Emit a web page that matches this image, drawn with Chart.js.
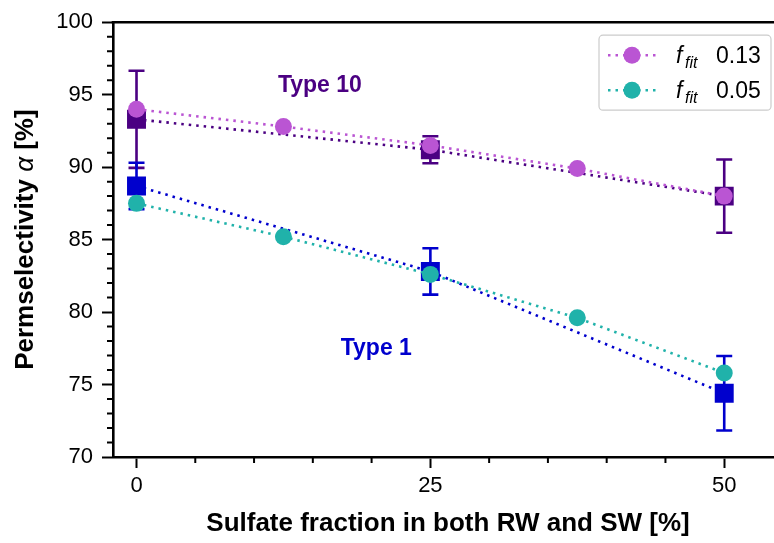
<!DOCTYPE html>
<html><head><meta charset="utf-8">
<script src="https://cdn.jsdelivr.net/npm/chart.js@4.4.0/dist/chart.umd.min.js"></script>
<style>
html,body{margin:0;padding:0;overflow:hidden;background:#fff;width:774px;height:543px}
#wrap{width:800px;height:543px;position:relative}
</style></head>
<body><div id="wrap"><canvas id="c" width="800" height="543"></canvas></div>
<script>
// ---- data ----
const fitX = [0, 12.5, 25, 37.5, 50];
const fit013 = [94.0, 92.8, 91.5, 89.9, 88.0];
const fit005 = [87.5, 85.2, 82.6, 79.6, 75.8];
const expX = [0, 25, 50];
const type10 = [93.3, 91.2, 88.0];
const type10Err = [3.35, 0.93, 2.53];
const type1 = [88.7, 82.8, 74.4];
const type1Err = [1.6, 1.6, 2.57];
const xTicks = [0, 25, 50];
const xMinor = [5, 10, 15, 20, 30, 35, 40, 45];
const yTicks = [70, 75, 80, 85, 90, 95, 100];
const yMinor = [71,72,73,74,76,77,78,79,81,82,83,84,86,87,88,89,91,92,93,94,96,97,98,99];
const legendLabels = ['0.13', '0.05'];
const typeLabels = [{text:'Type 10', x:15.6, y:95.6}, {text:'Type 1', x:20.4, y:77.5}];

const F = "'Liberation Sans', Arial, sans-serif";
const C10 = '#4b0082', C1 = '#0000cd', CV = '#ba55d3', CT = '#20b2aa';
const pts = (xs, ys) => xs.map((x, i) => ({x: x, y: ys[i]}));

const errPlugin = {
  id: 'err',
  beforeDatasetsDraw(chart) {
    const {ctx, scales: {x, y}} = chart;
    const draw = (ys, errs, color) => {
      ctx.strokeStyle = color; ctx.lineWidth = 2.6; ctx.lineCap = 'butt';
      ys.forEach((v, i) => {
        const px = x.getPixelForValue(expX[i]);
        const t = y.getPixelForValue(v + errs[i]);
        const b = y.getPixelForValue(v - errs[i]);
        ctx.beginPath();
        ctx.moveTo(px, t); ctx.lineTo(px, b);
        ctx.moveTo(px - 8, t); ctx.lineTo(px + 8, t);
        ctx.moveTo(px - 8, b); ctx.lineTo(px + 8, b);
        ctx.stroke();
      });
    };
    ctx.save();
    draw(type10, type10Err, C10);
    draw(type1, type1Err, C1);
    ctx.restore();
  }
};

const decoPlugin = {
  id: 'deco',
  afterDraw(chart) {
    const {ctx, chartArea: a, scales: {x, y}} = chart;
    ctx.save();
    // frame top/right
    ctx.strokeStyle = '#000'; ctx.lineWidth = 2.6;
    ctx.beginPath();
    ctx.moveTo(a.left - 1.3, a.top); ctx.lineTo(a.right, a.top); ctx.lineTo(a.right, a.bottom);
    ctx.stroke();
    // minor ticks
    ctx.lineWidth = 2;
    ctx.beginPath();
    xMinor.forEach(v => { const px = x.getPixelForValue(v); ctx.moveTo(px, a.bottom); ctx.lineTo(px, a.bottom + 6); });
    yMinor.forEach(v => { const py = y.getPixelForValue(v); ctx.moveTo(a.left, py); ctx.lineTo(a.left - 6, py); });
    ctx.stroke();
    // type labels
    ctx.font = 'bold 23px ' + F;
    ctx.textAlign = 'center'; ctx.textBaseline = 'middle';
    [C10, C1].forEach((c, i) => {
      const t = typeLabels[i];
      ctx.fillStyle = c;
      ctx.fillText(t.text, x.getPixelForValue(t.x), y.getPixelForValue(t.y));
    });
    // y title
    ctx.save();
    ctx.translate(33, (a.top + a.bottom) / 2);
    ctx.rotate(-Math.PI / 2);
    ctx.fillStyle = '#000';
    ctx.textBaseline = 'alphabetic'; ctx.textAlign = 'left';
    const parts = [['bold 26px ' + F, 'Permselectivity '], ['italic 26px ' + F, 'α'], ['bold 26px ' + F, ' [%]']];
    let w = 0;
    parts.forEach(p => { ctx.font = p[0]; w += ctx.measureText(p[1]).width; });
    let cx = -w / 2;
    parts.forEach(p => { ctx.font = p[0]; ctx.fillText(p[1], cx, 0); cx += ctx.measureText(p[1]).width; });
    ctx.restore();
    // legend
    const right = a.right - 12, left = right - 172, top = a.top + 13, h = 75;
    ctx.fillStyle = 'rgba(255,255,255,0.85)';
    ctx.strokeStyle = '#cccccc'; ctx.lineWidth = 1.2;
    ctx.beginPath(); ctx.roundRect(left, top, 172, h, 4); ctx.fill(); ctx.stroke();
    [CV, CT].forEach((c, i) => {
      const ry = top + 20 + i * 35;
      ctx.strokeStyle = c; ctx.lineWidth = 2.6; ctx.setLineDash([2.5, 5]);
      ctx.beginPath(); ctx.moveTo(left + 9, ry); ctx.lineTo(left + 59, ry); ctx.stroke();
      ctx.setLineDash([]);
      ctx.fillStyle = c;
      ctx.beginPath(); ctx.arc(left + 33, ry, 8.5, 0, Math.PI * 2); ctx.fill();
      ctx.fillStyle = '#000'; ctx.textAlign = 'left'; ctx.textBaseline = 'alphabetic';
      ctx.font = 'italic 23px ' + F;
      ctx.fillText('f', left + 77, ry + 8);
      ctx.font = 'italic 16px ' + F;
      ctx.fillText('fit', left + 86, ry + 13);
      ctx.font = '23px ' + F;
      ctx.fillText(legendLabels[i], left + 117, ry + 8);
    });
    ctx.restore();
  }
};

new Chart(document.getElementById('c'), {
  type: 'scatter',
  data: {
    datasets: [
      {label: 'fit 0.13', data: pts(fitX, fit013), showLine: true, borderColor: CV, backgroundColor: CV,
       borderWidth: 2.6, borderDash: [2.5, 5], pointRadius: 8.5, pointStyle: 'circle', pointBorderWidth: 0},
      {label: 'fit 0.05', data: pts(fitX, fit005), showLine: true, borderColor: CT, backgroundColor: CT,
       borderWidth: 2.6, borderDash: [2.5, 5], pointRadius: 8.5, pointStyle: 'circle', pointBorderWidth: 0},
      {label: 'Type 10', data: pts(expX, type10), showLine: true, borderColor: C10, backgroundColor: C10,
       borderWidth: 2.6, borderDash: [2.5, 5], pointRadius: 13.4, pointStyle: 'rect', pointBorderWidth: 0},
      {label: 'Type 1', data: pts(expX, type1), showLine: true, borderColor: C1, backgroundColor: C1,
       borderWidth: 2.6, borderDash: [2.5, 5], pointRadius: 13.4, pointStyle: 'rect', pointBorderWidth: 0}
    ]
  },
  options: {
    responsive: false, animation: false,
    layout: {padding: {top: 20, right: 17, left: 0, bottom: 0}},
    plugins: {legend: {display: false}, tooltip: {enabled: false}},
    scales: {
      x: {
        type: 'linear', min: -2, max: 55,
        afterBuildTicks: s => { s.ticks = xTicks.map(v => ({value: v})); },
        afterFit: s => { s.height = 86; },
        border: {color: '#000', width: 2.6},
        grid: {drawOnChartArea: false, tickLength: 11, tickWidth: 2, tickColor: '#000'},
        ticks: {font: {family: F, size: 22}, color: '#000', padding: 5, maxRotation: 0},
        title: {display: true, text: 'Sulfate fraction in both RW and SW [%]', color: '#000',
                font: {family: F, size: 26, weight: 'bold'}, padding: {top: 0, bottom: 4}}
      },
      y: {
        min: 70, max: 100,
        afterBuildTicks: s => { s.ticks = yTicks.map(v => ({value: v})); },
        afterFit: s => { s.width = 113; },
        border: {color: '#000', width: 2.6},
        grid: {drawOnChartArea: false, tickLength: 11, tickWidth: 2, tickColor: '#000'},
        ticks: {font: {family: F, size: 22}, color: '#000', padding: 9}
      }
    }
  },
  plugins: [errPlugin, decoPlugin]
});
</script>
</body></html>
